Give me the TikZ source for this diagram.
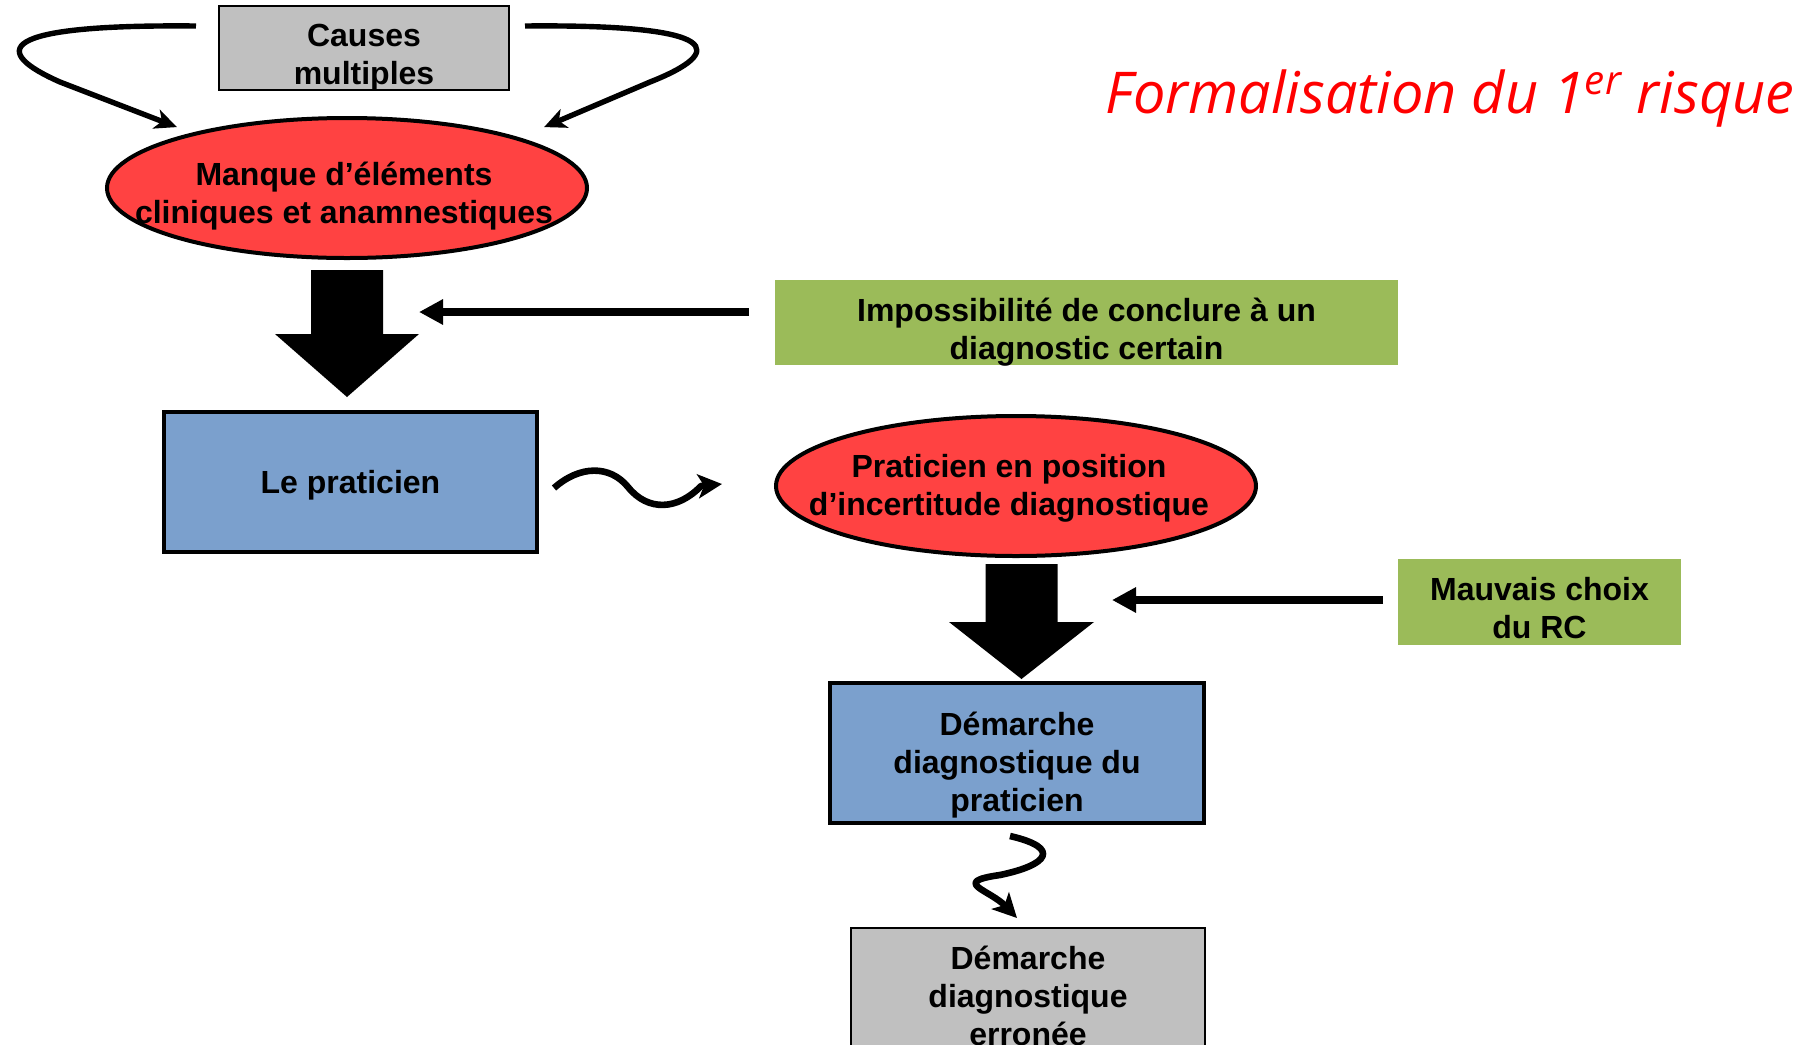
\documentclass[tikz,border=0pt]{standalone}
\usepackage{fontspec}
\setmainfont{Liberation Sans}
\newfontfamily\titlefont{Open Sans}
\usetikzlibrary{shapes,arrows.meta,calc,fit,positioning}

\definecolor{rouge}{RGB}{255,66,66}
\definecolor{bleu}{RGB}{123,160,205}
\definecolor{vert}{RGB}{155,187,89}
\definecolor{gris}{RGB}{192,192,192}

\begin{document}
\begin{tikzpicture}[x=0.5pt,y=-0.5pt,>={Triangle[length=12pt,width=12pt]},
		font=\bfseries\fontsize{16}{19}\selectfont,
		every fit/.style={inner sep=0pt, outer sep=0pt},
		every label/.style={align=center},
		graybox/.style={draw, line width=0.9pt, fill=gris},
		bluebox/.style={draw, line width=2.3pt, fill=bleu},
		greenbox/.style={draw=none, fill=vert},
		redell/.style={draw, ellipse, line width=2pt, fill=rouge, minimum width=240pt, minimum height=70pt, inner sep=0pt},
		fleche/.style={->, line width=4pt},
		courbe/.style={-{Stealth[length=11pt,width=10pt,inset=3pt]}, line width=2.7pt, line join=round},
		onde/.style={-{Stealth[length=12pt,width=12pt,inset=3pt]}, line width=3.3pt, line join=round}]

	\useasboundingbox (0,0) rectangle (1806,1045);

	% titre
	\node [anchor=base, text=red, font=\titlefont\itshape\fontsize{28.8}{32}\selectfont] (titre) at (1450,113) {Formalisation du 1\textsuperscript{er} risque};

	% colonne de gauche
	\node [graybox, fit={(219,6) (509,90)}, label={[yshift=-5pt]center:{Causes\\multiples}}] (causes) {};
	\node [redell, label={[yshift=-4pt,xshift=-1.5pt]center:{Manque d’éléments\\cliniques et anamnestiques}}] (manque) at (347,188) {};
	\node [bluebox, fit={(164,412) (537,552)}, label={[yshift=-1.7pt]center:{Le praticien}}] (prat) {};
	\node [greenbox, fit={(775,280) (1398,365)}, label={[yshift=-4.6pt]center:{Impossibilité de conclure à un\\diagnostic certain}}] (impo) {};

	% colonne de droite
	\node [redell, label={[yshift=-1pt,xshift=-3.5pt]center:{Praticien en position\\d’incertitude diagnostique}}] (incert) at (1016,486) {};
	\node [greenbox, fit={(1398,559) (1681,645)}, label={[yshift=-3.2pt]center:{Mauvais choix\\du RC}}] (mauvais) {};
	\node [bluebox, fit={(830,683) (1204,823)}, label={[yshift=-5.8pt]center:{Démarche\\diagnostique du\\praticien}}] (demarche) {};
	\node [graybox, fit={(851,928) (1205,1064)}, label=center:{Démarche\\diagnostique\\erronée}] (erronee) {};

	\coordinate (pointe1) at (419,312);
	\coordinate (pointe2) at (1112,600);

	% fleches
	\draw [courbe] ([shift={(-23,-22)}]causes.west) .. controls (-8,24) and (-8,52) .. (60,82) -- ([shift={(1,-10)}]manque.north west);
	\draw [courbe] ([shift={(16,-22)}]causes.east) .. controls (726,24) and (726,52) .. (650,82) -- ([shift={(26,-10)}]manque.north east);

	\fill ([shift={(-36,10)}]manque.south) -- ([shift={(36,10)}]manque.south) -- ([shift={(36,74)}]manque.south)
		-- ([shift={(72,74)}]manque.south) -- ([shift={(0,137)}]manque.south) -- ([shift={(-72,74)}]manque.south)
		-- ([shift={(-36,74)}]manque.south) -- cycle;
	\fill ([shift={(-30.5,6)}]incert.south) -- ([shift={(41.5,6)}]incert.south) -- ([shift={(41.5,64)}]incert.south)
		-- ([shift={(78,64)}]incert.south) -- ([shift={(5.5,121)}]incert.south) -- ([shift={(-67,64)}]incert.south)
		-- ([shift={(-30.5,64)}]incert.south) -- cycle;

	\draw [fleche] ([shift={(-26,-10.5)}]impo.west) -- (pointe1);
	\draw [fleche] ([shift={(-15,-2)}]mauvais.west) -- (pointe2);

	\draw [onde] ([shift={(17,6)}]prat.east) .. controls (580,465) and (610,465) .. (628,487)
		.. controls (648,512) and (678,510) .. (701,486) -- ([shift={(-52,-2)}]incert.west);
	\draw [onde] ([shift={(-7,13)}]demarche.south) .. controls (1062,848) and (1048,865) .. (1000,875)
		.. controls (950,882) and (990,890) .. ([shift={(-11,-10)}]erronee.north);
\end{tikzpicture}
\end{document}
